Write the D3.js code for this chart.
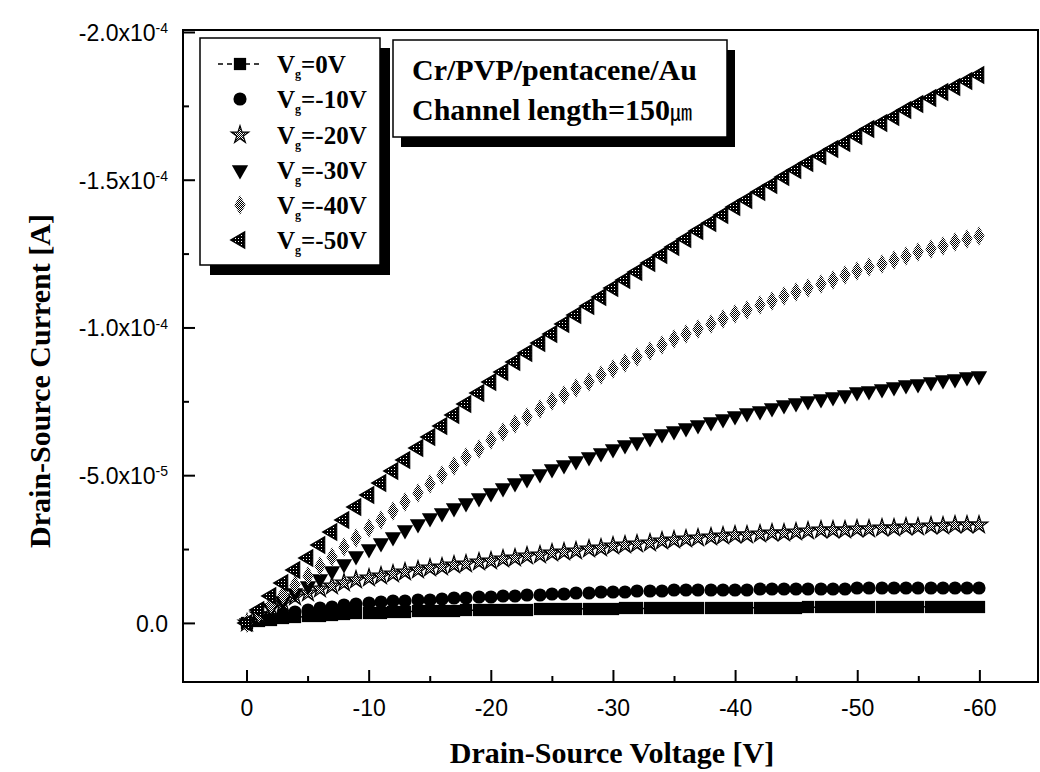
<!DOCTYPE html>
<html>
<head>
<meta charset="utf-8">
<script src="https://cdn.jsdelivr.net/npm/d3@7"></script>
<style>
    body { margin: 0; background: #fff; }
    .tick text { font-family: "Liberation Sans", Arial, sans-serif; font-size: 23px; fill: #000; }
    .serif { font-family: "Liberation Serif", "Times New Roman", serif; font-weight: bold; fill: #000; }
</style>
</head>
<body>
<div id="chart"></div>
<script>
// Drain-source voltage (V), one point per volt
const vds = [0, -1, -2, -3, -4, -5, -6, -7, -8, -9, -10, -11, -12, -13, -14, -15, -16, -17, -18, -19, -20,
    -21, -22, -23, -24, -25, -26, -27, -28, -29, -30, -31, -32, -33, -34, -35, -36, -37, -38, -39, -40,
    -41, -42, -43, -44, -45, -46, -47, -48, -49, -50, -51, -52, -53, -54, -55, -56, -57, -58, -59, -60];

// Drain-source current in microamps for each gate voltage
const idsVg0 = [0, -0.6, -1.1, -1.5, -1.9, -2.2, -2.5, -2.8, -3.0, -3.2, -3.4, -3.5, -3.7, -3.8, -3.9, -4.0, -4.1, -4.2, -4.3, -4.3, -4.4,
    -4.4, -4.5, -4.5, -4.6, -4.6, -4.7, -4.7, -4.8, -4.8, -4.8, -4.9, -4.9, -4.9, -5.0, -5.0, -5.0, -5.0, -5.1, -5.1, -5.1,
    -5.1, -5.2, -5.2, -5.2, -5.2, -5.3, -5.3, -5.3, -5.3, -5.3, -5.4, -5.4, -5.4, -5.4, -5.4, -5.5, -5.5, -5.5, -5.5, -5.5];
const idsVg10 = [0, -1.2, -2.2, -3.0, -3.7, -4.3, -4.9, -5.4, -5.9, -6.3, -6.7, -7.0, -7.3, -7.5, -7.7, -7.9, -8.1, -8.3, -8.5, -8.7, -8.8,
    -9.0, -9.2, -9.4, -9.6, -9.8, -9.9, -10.1, -10.2, -10.4, -10.5, -10.6, -10.7, -10.8, -10.9, -11.0, -11.1, -11.1, -11.2, -11.2, -11.3,
    -11.3, -11.4, -11.4, -11.5, -11.5, -11.5, -11.6, -11.6, -11.6, -11.7, -11.7, -11.7, -11.8, -11.8, -11.8, -11.8, -11.9, -11.9, -11.9, -11.9];
const idsVg20 = [0, -2.6, -4.9, -6.9, -8.7, -10.2, -11.5, -12.6, -13.6, -14.5, -15.3, -16.0, -16.7, -17.3, -17.9, -18.5, -19.0, -19.5, -20.0, -20.5, -21.0,
    -21.5, -22.0, -22.5, -23.0, -23.5, -24.0, -24.5, -25.0, -25.5, -26.0, -26.4, -26.8, -27.2, -27.6, -28.0, -28.4, -28.7, -29.0, -29.3, -29.6,
    -29.9, -30.2, -30.4, -30.6, -30.8, -31.1, -31.3, -31.4, -31.6, -31.8, -31.9, -32.1, -32.2, -32.4, -32.5, -32.7, -32.8, -33.0, -33.1, -33.3];
const idsVg30 = [0, -2.5, -5.0, -7.5, -10.0, -12.5, -15.0, -17.5, -20.0, -22.5, -25.0, -27.1, -29.2, -31.3, -33.4, -35.5, -37.2, -38.9, -40.6, -42.3, -44.0,
    -45.6, -47.2, -48.8, -50.4, -52.0, -53.4, -54.8, -56.2, -57.6, -59.0, -60.2, -61.4, -62.6, -63.8, -65.0, -66.0, -67.0, -68.0, -69.0, -70.0,
    -70.9, -71.8, -72.7, -73.6, -74.5, -75.2, -75.9, -76.6, -77.3, -78.0, -78.6, -79.2, -79.8, -80.4, -81.0, -81.5, -82.1, -82.6, -83.2, -83.7];
const idsVg40 = [0, -3.2, -6.4, -9.6, -12.8, -16.0, -19.2, -22.4, -25.6, -28.8, -32.0, -35.0, -38.0, -41.0, -44.0, -47.0, -50.0, -53.0, -56.0, -59.0, -62.0,
    -64.6, -67.2, -69.8, -72.4, -75.0, -77.2, -79.4, -81.6, -83.8, -86.0, -88.0, -90.0, -92.0, -94.0, -96.0, -97.7, -99.4, -101.1, -102.8, -104.5,
    -106.0, -107.5, -109.0, -110.5, -112.0, -113.4, -114.8, -116.2, -117.6, -119.0, -120.3, -121.6, -122.9, -124.2, -125.5, -126.6, -127.7, -128.8, -129.9, -131.0];
const idsVg50 = [0, -4.5, -9.0, -13.4, -17.8, -22.1, -26.4, -30.7, -34.9, -39.1, -43.2, -47.3, -51.3, -55.2, -59.1, -63.0, -66.8, -70.5, -74.2, -77.8, -81.4,
    -84.8, -88.2, -91.5, -94.7, -97.9, -101.1, -104.2, -107.2, -110.2, -113.2, -116.1, -118.9, -121.8, -124.6, -127.3, -130.1, -132.8, -135.4, -138.1, -140.7,
    -143.2, -145.8, -148.3, -150.8, -153.2, -155.6, -158.0, -160.3, -162.6, -164.9, -167.1, -169.3, -171.4, -173.5, -175.6, -177.6, -179.6, -181.5, -183.4, -185.3];

// Legend labels (gate voltages)
const gateValues = ["=0V", "=-10V", "=-20V", "=-30V", "=-40V", "=-50V"];

// Tick labels
const xTicks = [0, -10, -20, -30, -40, -50, -60];
const xMinorTicks = [-5, -15, -25, -35, -45, -55];
const yTicks = [0, -5e-5, -1e-4, -1.5e-4, -2e-4];
const yTickMantissa = ["0.0", "-5.0x10", "-1.0x10", "-1.5x10", "-2.0x10"];
const yTickExponent = ["", "-5", "-4", "-4", "-4"];
const yMinorTicks = [-2.5e-5, -7.5e-5, -1.25e-4, -1.75e-4];

const infoLines = ["Cr/PVP/pentacene/Au", "Channel length=150"];

const width = 1040;
const height = 772;

const svg = d3.select("#chart")
    .append("svg")
    .attr("width", width)
    .attr("height", height);

// Dither patterns to mimic the grey scanned markers
const defs = svg.append("defs");
function addPattern(id, size, blackCells) {
    const p = defs.append("pattern")
        .attr("id", id)
        .attr("width", size)
        .attr("height", size)
        .attr("patternUnits", "userSpaceOnUse");
    p.append("rect").attr("width", size).attr("height", size).attr("fill", "#fff");
    blackCells.forEach(c => {
        p.append("rect").attr("x", c[0]).attr("y", c[1]).attr("width", 1).attr("height", 1).attr("fill", "#000");
    });
}
addPattern("checker", 2, [[0, 0], [1, 1]]);
addPattern("dense", 3, [[0, 0], [1, 0], [2, 0], [0, 1], [2, 1], [0, 2], [1, 2], [2, 2]]);

// Scales
const x = d3.scaleLinear().domain([5.2, -64.8]).range([183, 1038]);
const y = d3.scaleLinear().domain([2e-5, -2e-4]).range([682, 32]);

// Axes, ticks pointing inward
svg.append("g")
    .attr("transform", "translate(0,682)")
    .call(d3.axisBottom(x).tickValues(xTicks).tickSize(-12).tickSizeOuter(0).tickPadding(18)
        .tickFormat(d => String(d)));
svg.append("g")
    .attr("transform", "translate(0,682)")
    .call(d3.axisBottom(x).tickValues(xMinorTicks).tickSize(-6).tickSizeOuter(0).tickFormat(""));

const yAxis = svg.append("g")
    .attr("transform", "translate(183,0)")
    .call(d3.axisLeft(y).tickValues(yTicks).tickSize(-12).tickSizeOuter(0).tickPadding(15).tickFormat(""));
svg.append("g")
    .attr("transform", "translate(183,0)")
    .call(d3.axisLeft(y).tickValues(yMinorTicks).tickSize(-6).tickSizeOuter(0).tickFormat(""));

svg.selectAll(".domain").remove();
svg.selectAll(".tick line").attr("stroke", "#000").attr("stroke-width", 2);

// y tick labels with superscript exponent
yAxis.selectAll(".tick text").each(function (d, i) {
    const t = d3.select(this).attr("dy", "0.36em");
    t.append("tspan").text(yTickMantissa[i]);
    if (yTickExponent[i]) {
        t.append("tspan").attr("dy", "-0.55em").style("font-size", "14px").text(yTickExponent[i]);
    }
});

// Frame
svg.append("rect")
    .attr("x", 183).attr("y", 30)
    .attr("width", 855).attr("height", 652)
    .attr("fill", "none").attr("stroke", "#000").attr("stroke-width", 2);

// Series definitions
const series = [
    { values: idsVg0, shape: d3.symbolSquare, size: 150, rotate: 0, fill: "#000", stroke: "none" },
    { values: idsVg10, shape: d3.symbolCircle, size: 135, rotate: 0, fill: "#000", stroke: "none" },
    { values: idsVg20, shape: d3.symbolStar, size: 95, rotate: 0, fill: "url(#checker)", stroke: "#000" },
    { values: idsVg30, shape: d3.symbolTriangle, size: 115, rotate: 180, fill: "#000", stroke: "none" },
    { values: idsVg40, shape: d3.symbolDiamond, size: 110, rotate: 0, fill: "url(#checker)", stroke: "none" },
    { values: idsVg50, shape: d3.symbolTriangle, size: 115, rotate: -90, fill: "url(#dense)", stroke: "#000" }
];

// Dashed line behind the Vg=0V squares
svg.append("path")
    .datum(idsVg0)
    .attr("fill", "none")
    .attr("stroke", "#000")
    .attr("stroke-width", 1.5)
    .attr("stroke-dasharray", "5,4")
    .attr("d", d3.line().x((d, i) => x(vds[i])).y(d => y(d * 1e-6)));

series.forEach(function (s) {
    svg.append("g")
        .selectAll("path")
        .data(s.values)
        .enter().append("path")
        .attr("d", d3.symbol().type(s.shape).size(s.size))
        .attr("transform", (d, i) => "translate(" + Math.round(x(vds[i])) + "," + Math.round(y(d * 1e-6)) + ") rotate(" + s.rotate + ")")
        .attr("fill", s.fill)
        .attr("stroke", s.stroke)
        .attr("stroke-width", 1.2);
});

// Legend box with drop shadow
svg.append("rect").attr("x", 210).attr("y", 48).attr("width", 180).attr("height", 227).attr("fill", "#000");
svg.append("rect").attr("x", 200).attr("y", 38).attr("width", 180).attr("height", 227)
    .attr("fill", "#fff").attr("stroke", "#000").attr("stroke-width", 1.5);

const legendRowY = [64, 99, 135, 170, 205, 240];
series.forEach(function (s, i) {
    const cy = legendRowY[i];
    if (i === 0) {
        svg.append("line")
            .attr("x1", 218).attr("x2", 262).attr("y1", cy).attr("y2", cy)
            .attr("stroke", "#000").attr("stroke-width", 1.5).attr("stroke-dasharray", "5,4");
    }
    svg.append("path")
        .attr("d", d3.symbol().type(s.shape).size(s.size))
        .attr("transform", "translate(240," + cy + ") rotate(" + s.rotate + ")")
        .attr("fill", s.fill)
        .attr("stroke", s.stroke)
        .attr("stroke-width", 1.2);
    const t = svg.append("text")
        .attr("class", "serif")
        .attr("x", 277)
        .attr("y", cy + 9)
        .style("font-size", "25px");
    t.append("tspan").text("V");
    t.append("tspan").attr("dy", 5).style("font-size", "12px").text("g");
    t.append("tspan").attr("dy", -5).text(gateValues[i]);
});

// Device info box with drop shadow
svg.append("rect").attr("x", 401).attr("y", 50).attr("width", 334).attr("height", 97).attr("fill", "#000");
svg.append("rect").attr("x", 393).attr("y", 40).attr("width", 334).attr("height", 97)
    .attr("fill", "#fff").attr("stroke", "#000").attr("stroke-width", 1.5);
svg.append("text").attr("class", "serif").attr("x", 412).attr("y", 80)
    .style("font-size", "30px").text(infoLines[0]);
const line2 = svg.append("text").attr("class", "serif").attr("x", 412).attr("y", 120)
    .style("font-size", "30px");
line2.append("tspan").text(infoLines[1]);
line2.append("tspan")
    .style("font-family", "'Noto Sans CJK KR', 'Noto Sans CJK SC', sans-serif")
    .style("font-size", "22px")
    .style("font-weight", "normal")
    .text("㎛");

// Axis titles
svg.append("text")
    .attr("class", "serif")
    .attr("x", 612)
    .attr("y", 763)
    .attr("text-anchor", "middle")
    .style("font-size", "30px")
    .text("Drain-Source Voltage [V]");

svg.append("text")
    .attr("class", "serif")
    .attr("transform", "translate(50,381) rotate(-90)")
    .attr("text-anchor", "middle")
    .style("font-size", "30px")
    .text("Drain-Source Current [A]");
</script>
</body>
</html>
